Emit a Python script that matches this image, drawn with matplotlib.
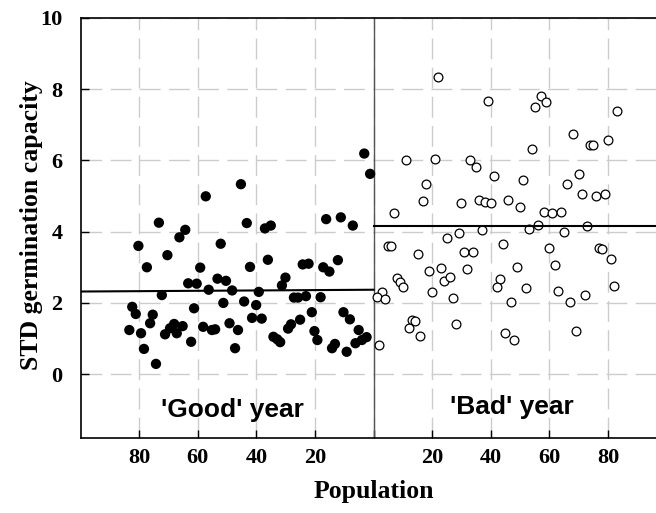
import matplotlib
matplotlib.use("Agg")
import matplotlib.pyplot as plt

# 'Good' year populations (filled) and their STD germination capacity
good_pop = [3.2, 1.2, 57.3, 45.3, 73.3, 80.3, 66.3, 64.3, 70.4, 77.4,
            52.2, 43.3, 37.1, 35.1, 16.2, 11.2, 7.1, 36.1, 42.2, 59.2,
            63.3, 60.4, 56.3, 53.3, 50.4, 48.3, 72.3, 39.2, 31.3, 30.1,
            24.2, 22.2, 17.2, 15.1, 12.2, 27.2, 25.8, 23.1, 18.1, 82.4,
            81.2, 75.4, 61.3, 51.3, 44.2, 40.1, 41.5, 38.2, 83.4, 79.4,
            76.3, 71.2, 69.5, 68.1, 67.2, 65.2, 62.3, 58.2, 55.2, 54.1,
            49.2, 46.3, 47.3, 78.4, 74.3, 34.2, 32.9, 31.9, 29.2, 28.2,
            25.1, 21.1, 20.2, 19.2, 14.2, 13.2, 10.3, 8.1, 9.2, 6.2,
            5.1, 4.0, 2.4]
good_std = [6.19, 5.62, 4.99, 5.33, 4.25, 3.60, 3.84, 4.05, 3.34, 3.00,
            3.66, 4.24, 4.09, 4.17, 4.35, 4.40, 4.17, 3.21, 3.01, 2.99,
            2.55, 2.54, 2.37, 2.68, 2.62, 2.35, 2.22, 2.31, 2.49, 2.71,
            3.08, 3.10, 3.00, 2.88, 3.20, 2.15, 2.15, 2.19, 2.16, 1.89,
            1.69, 1.67, 1.85, 2.00, 2.04, 1.94, 1.58, 1.56, 1.24, 1.15,
            1.43, 1.12, 1.29, 1.41, 1.15, 1.35, 0.91, 1.33, 1.24, 1.26,
            1.43, 1.24, 0.73, 0.71, 0.29, 1.05, 0.98, 0.90, 1.28, 1.40,
            1.53, 1.74, 1.21, 0.96, 0.73, 0.85, 1.74, 1.54, 0.63, 0.87,
            1.24, 0.96, 1.04]

# 'Bad' year populations (open)
bad_pop = [22, 39, 57, 55, 59, 83, 68, 74, 75, 80,
           54, 11, 21, 33, 35, 41, 51, 18, 17, 30,
           36, 38, 40, 46, 50, 58, 61, 64, 66, 70,
           71, 76, 79, 7, 56, 53, 37, 65, 73, 29,
           25, 5, 6, 15, 31, 34, 44, 60, 77, 78,
           81, 19, 23, 32, 49, 62, 8, 9, 10, 24,
           26, 43, 42, 20, 3, 1, 4, 27, 52, 63,
           82, 72, 67, 47, 13, 14, 12, 16, 28, 45,
           48, 69, 2]
bad_std = [8.35, 7.66, 7.80, 7.50, 7.63, 7.38, 6.74, 6.44, 6.42, 6.57,
           6.33, 6.01, 6.04, 6.00, 5.80, 5.57, 5.45, 5.34, 4.87, 4.79,
           4.88, 4.84, 4.81, 4.88, 4.68, 4.56, 4.51, 4.55, 5.34, 5.62,
           5.05, 4.99, 5.06, 4.52, 4.19, 4.06, 4.04, 4.00, 4.16, 3.95,
           3.83, 3.59, 3.59, 3.38, 3.42, 3.42, 3.66, 3.53, 3.53, 3.51,
           3.24, 2.89, 2.98, 2.94, 3.02, 3.05, 2.69, 2.59, 2.44, 2.61,
           2.72, 2.68, 2.45, 2.31, 2.31, 2.16, 2.12, 2.15, 2.41, 2.33,
           2.47, 2.21, 2.03, 2.04, 1.53, 1.48, 1.29, 1.08, 1.41, 1.15,
           0.96, 1.22, 0.82]

# fitted lines
good_line_x = [-100, 0]
good_line_y = [2.32, 2.37]
bad_line_x = [0, 96.4]
bad_line_y = [4.15, 4.15]

xticks = [-80, -60, -40, -20, 0, 20, 40, 60, 80]
xticklabels = ['80', '60', '40', '20', '', '20', '40', '60', '80']
yticks = [0, 2, 4, 6, 8, 10]

serif = ['Liberation Serif', 'DejaVu Serif']
sans = ['Liberation Sans', 'DejaVu Sans']

fig = plt.figure(figsize=(6.56, 5.13), dpi=100)
ax = fig.add_axes([0.123, 0.1454, 0.877, 0.8201])

ax.set_xlim(-100, 96.4)
ax.set_ylim(-1.8, 10)

ax.grid(True, color='#cccccc', linestyle=(0, (15, 6)), linewidth=1)
ax.set_axisbelow(True)

ax.axvline(0, color='#555555', linewidth=1, zorder=2)

ax.scatter([-p for p in good_pop], good_std, s=55, color='black',
           edgecolors='none', zorder=3)
ax.scatter(bad_pop, bad_std, s=40, facecolors='white', edgecolors='black',
           linewidths=0.9, zorder=3)

ax.plot(good_line_x, good_line_y, color='black', linewidth=1.5, zorder=4)
ax.plot(bad_line_x, bad_line_y, color='black', linewidth=1.5, zorder=4)

ax.text(-48.3, -1.0, "'Good' year", fontsize=19, fontweight='bold',
        family=sans, ha='center', va='center')
ax.text(47.2, -0.92, "'Bad' year", fontsize=19, fontweight='bold',
        family=sans, ha='center', va='center')

ax.set_xticks(xticks)
ax.set_xticklabels(xticklabels)
ax.set_yticks(yticks)
ax.tick_params(direction='in', length=6, width=1, labelsize=16, pad=7)
ax.tick_params(axis='y', pad=13)
for lab in ax.get_xticklabels() + ax.get_yticklabels():
    lab.set_fontfamily(serif)
    lab.set_fontweight('bold')

ax.spines['right'].set_visible(False)
for s in ['left', 'top', 'bottom']:
    ax.spines[s].set_linewidth(1.2)

ax.set_xlabel('Population', fontsize=18.5, fontweight='bold', family=serif)
ax.xaxis.set_label_coords(0.509, -0.1)
ax.set_ylabel('STD germination capacity', fontsize=18.5, fontweight='bold',
              family=serif)
ax.yaxis.set_label_coords(-0.066, 0.507)

fig.savefig('out.png', dpi=100)
